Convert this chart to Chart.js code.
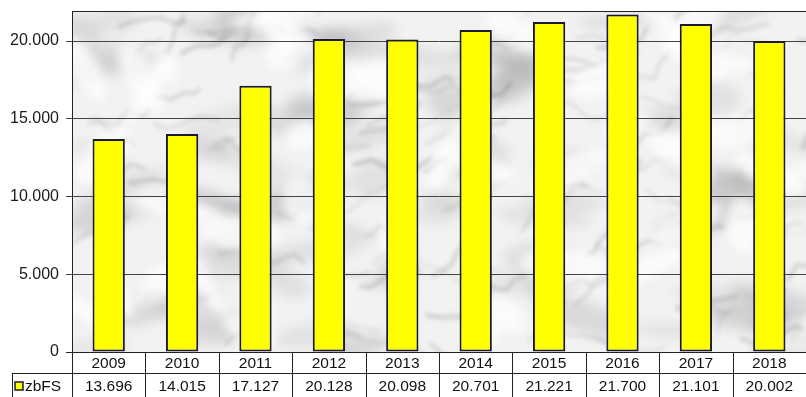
<!DOCTYPE html>
<html lang="de">
<head>
    <meta charset="UTF-8">
    <title>zbFS 2009-2018</title>
    <script src="https://cdn.jsdelivr.net/npm/chart.js"></script>
    <style>
        html, body {
            margin: 0;
            padding: 0;
            background: #fff;
        }
        canvas {
            display: block;
        }
    </style>
</head>
<body>
    <canvas id="zbfsChart" width="806" height="397"></canvas>

    <script>
        // Data
        const years = ['2009', '2010', '2011', '2012', '2013', '2014', '2015', '2016', '2017', '2018'];
        const zbFS = [13696, 14015, 17127, 20128, 20098, 20701, 21221, 21700, 21101, 20002];
        const seriesName = 'zbFS';
        const yTicks = [0, 5000, 10000, 15000, 20000];
        const yMax = 21930;

        const FONT = '"Liberation Sans", Arial, sans-serif';
        const FONT_SIZE = 15.5;

        // German thousands separator: 20000 -> "20.000"
        function fmt(n) {
            return String(n).replace(/\B(?=(\d{3})+(?!\d))/g, '.');
        }

        // small seeded random, only for the marble look of the plot background
        function makeRand(seed) {
            let s = seed;
            return function() {
                s = (s * 16807) % 2147483647;
                return (s - 1) / 2147483646;
            };
        }

        const marblePlugin = {
            id: 'marble',
            beforeDraw(chart) {
                const { ctx, chartArea: a } = chart;
                ctx.save();
                ctx.beginPath();
                ctx.rect(a.left, a.top, a.right - a.left, a.bottom - a.top);
                ctx.clip();
                ctx.fillStyle = '#f2f2f2';
                ctx.fillRect(a.left, a.top, a.right - a.left, a.bottom - a.top);

                const rand = makeRand(9173);
                // soft grey clouds
                ctx.filter = 'blur(6px)';
                for (let i = 0; i < 80; i++) {
                    const x = a.left + rand() * (a.right - a.left);
                    const y = a.top + rand() * (a.bottom - a.top);
                    ctx.fillStyle = 'rgba(145,145,150,' + (0.12 + rand() * 0.16) + ')';
                    ctx.beginPath();
                    ctx.ellipse(x, y, 20 + rand() * 35, 6 + rand() * 12, -0.4 + rand() * 0.8, 0, Math.PI * 2);
                    ctx.fill();
                }
                // veins
                ctx.filter = 'blur(2px)';
                for (let i = 0; i < 110; i++) {
                    let x = a.left + rand() * (a.right - a.left);
                    let y = a.top + rand() * (a.bottom - a.top);
                    const ang = -0.7 + rand() * 1.0;
                    ctx.strokeStyle = 'rgba(115,115,120,' + (0.15 + rand() * 0.22) + ')';
                    ctx.lineWidth = 1 + rand() * 3;
                    ctx.beginPath();
                    ctx.moveTo(x, y);
                    const segs = 3 + Math.floor(rand() * 4);
                    for (let k = 0; k < segs; k++) {
                        const len = 6 + rand() * 14;
                        const da = ang + (rand() - 0.5) * 1.6;
                        x += Math.cos(da) * len;
                        y += Math.sin(da) * len;
                        ctx.lineTo(x, y);
                    }
                    ctx.stroke();
                }
                // light patches
                ctx.filter = 'blur(5px)';
                for (let i = 0; i < 45; i++) {
                    const x = a.left + rand() * (a.right - a.left);
                    const y = a.top + rand() * (a.bottom - a.top);
                    ctx.fillStyle = 'rgba(255,255,255,0.7)';
                    ctx.beginPath();
                    ctx.ellipse(x, y, 15 + rand() * 30, 6 + rand() * 12, rand() * 3, 0, Math.PI * 2);
                    ctx.fill();
                }
                ctx.filter = 'none';
                ctx.restore();
            }
        };

        // data table under the plot (years row + values row + legend key)
        const tablePlugin = {
            id: 'dataTable',
            afterDraw(chart) {
                const { ctx, chartArea: a } = chart;
                const x = chart.scales.x;
                const w = (a.right - a.left) / years.length;
                const row1 = a.bottom;
                const row2 = a.bottom + 21.5;
                const end = 397;

                ctx.save();
                ctx.strokeStyle = '#222';
                ctx.lineWidth = 1;

                // top border of plot area
                ctx.beginPath();
                ctx.moveTo(a.left, a.top + 0.5);
                ctx.lineTo(a.right, a.top + 0.5);
                ctx.stroke();

                ctx.beginPath();
                ctx.moveTo(a.left - 6, row1 + 0.5);
                ctx.lineTo(a.right, row1 + 0.5);
                ctx.moveTo(12, row2);
                ctx.lineTo(a.right, row2);
                for (let i = 0; i <= years.length; i++) {
                    const bx = Math.round(a.left + i * w) + 0.5;
                    ctx.moveTo(bx, row1);
                    ctx.lineTo(bx, end);
                }
                ctx.moveTo(12.5, row2);
                ctx.lineTo(12.5, end);
                ctx.stroke();

                ctx.fillStyle = '#111';
                ctx.font = FONT_SIZE + 'px ' + FONT;
                ctx.textAlign = 'center';
                ctx.textBaseline = 'middle';
                years.forEach((yr, i) => {
                    const cx = x.getPixelForValue(i);
                    ctx.fillText(yr, cx, row1 + 12);
                    ctx.fillText(fmt(zbFS[i]), cx, row2 + 13.5);
                });

                // legend key
                ctx.fillStyle = '#ffff00';
                ctx.fillRect(15, 382, 8, 8);
                ctx.strokeStyle = '#1a1a33';
                ctx.lineWidth = 1.5;
                ctx.strokeRect(15, 382, 8, 8);
                ctx.fillStyle = '#111';
                ctx.textAlign = 'left';
                ctx.fillText(seriesName, 25, row2 + 13.5);
                ctx.restore();
            }
        };

        new Chart(document.getElementById('zbfsChart'), {
            type: 'bar',
            data: {
                labels: years,
                datasets: [{
                    label: seriesName,
                    data: zbFS,
                    backgroundColor: '#ffff00',
                    borderColor: '#1a1a33',
                    borderWidth: 2,
                    borderSkipped: false,
                    barPercentage: 0.44,
                    categoryPercentage: 1
                }]
            },
            options: {
                responsive: false,
                animation: false,
                layout: {
                    padding: { top: 11, bottom: 45, left: 0, right: 0 }
                },
                plugins: {
                    legend: { display: false },
                    tooltip: { enabled: false }
                },
                scales: {
                    x: {
                        display: false
                    },
                    y: {
                        min: 0,
                        max: yMax,
                        afterFit(scale) {
                            scale.width = 72;
                            scale.paddingTop = 0;
                            scale.paddingBottom = 0;
                        },
                        afterBuildTicks(scale) {
                            scale.ticks = yTicks.map(v => ({ value: v }));
                        },
                        ticks: {
                            padding: 7,
                            color: '#1a1a1a',
                            font: { family: FONT, size: 16 },
                            callback: v => fmt(v)
                        },
                        grid: {
                            color: '#444',
                            lineWidth: 1,
                            tickLength: 6,
                            drawTicks: true
                        },
                        border: {
                            display: true,
                            color: '#222',
                            width: 1
                        }
                    }
                }
            },
            plugins: [marblePlugin, tablePlugin]
        });
    </script>
</body>
</html>
